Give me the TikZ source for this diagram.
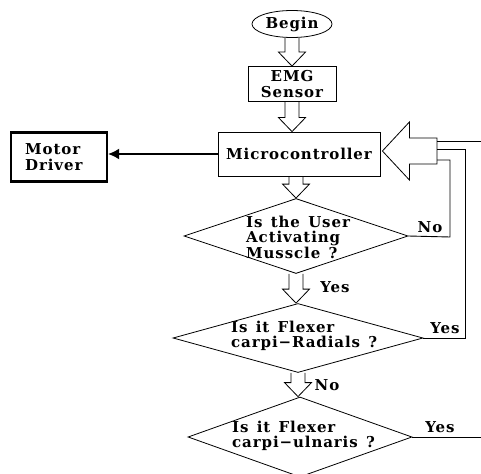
\documentclass[tikz,border=0pt]{standalone}
\usepackage{fontspec}
\setmainfont{DejaVu Serif}
\newfontfamily\diagfont{DejaVu Serif}[LetterSpace=6,WordSpace=1.35]
\usetikzlibrary{shapes.geometric,calc,arrows.meta}
\newcommand\myfont{\diagfont\fontsize{15}{15.5}\selectfont\bfseries}
\newcommand\harrow[2]{%
  \draw[hollow] let \p1=(#1), \p2=(#2) in
    (\x1-7pt,\y1) -- (\x1-7pt,\y2+14pt) -- (\x1-13.5pt,\y2+14pt) -- (\x1,\y2)
    -- (\x1+13.5pt,\y2+14pt) -- (\x1+7pt,\y2+14pt) -- (\x1+7pt,\y1);}
\tikzset{
  lbl/.style={font=\myfont, inner sep=0pt},
  hollow/.style={draw, line width=0.8pt, line join=miter},
  flow/.style={draw, line width=0.9pt},
  boxed/.style={draw, line width=0.8pt, inner sep=0pt},
}
\begin{document}
\begin{tikzpicture}[x=1pt,y=-1pt]
\path[use as bounding box] (0,0) rectangle (481,473);
\node[boxed, ellipse, minimum width=80, minimum height=27, lbl] (begin) at (292,24) {Begin};
\node[boxed, minimum width=88, minimum height=35, align=center, lbl] (emg) at (292,84) {EMG\\Sensor};
\node[boxed, minimum width=162, minimum height=44, lbl] (micro) at (299,154) {Microcontroller};
\node[boxed, line width=2.4pt, minimum width=96, minimum height=49] (motor) at (59,157) {};
\node[lbl, align=left, anchor=west] (motortext) at (25,157) {Motor\\Driver};
\node[boxed, diamond, minimum width=224, minimum height=75] (d1) at (296,236) {};
\node[boxed, diamond, minimum width=250, minimum height=69] (d2) at (298,338) {};
\node[boxed, diamond, minimum width=224, minimum height=80] (d3) at (300,437) {};
\node[lbl, align=left, anchor=west] (t1) at (246,237) {Is the User\\Activating\\Musscle ?};
\node[lbl, align=left, anchor=west] (t2) at (231,336) {Is it Flexer\\carpi−Radials ?};
\node[lbl, align=left, anchor=west] (t3) at (232,436) {Is it Flexer\\carpi−ulnaris ?};
\harrow{begin.south}{emg.north}
\harrow{emg.south}{micro.north}
\harrow{d1.north |- micro.south}{d1.north}
\harrow{d1.south}{d2.north}
\harrow{d2.south}{d3.north}
\coordinate (fb) at (437,151);
\draw[hollow] let \p1=(micro.east), \p2=(fb) in
  (\x1+2pt,\y2) -- (\x1+29pt,\y2+29pt) -- (\x1+29pt,\y2+13pt) -- (\x2,\y2+13pt)
  -- (\x2,\y2-13pt) -- (\x1+29pt,\y2-13pt) -- (\x1+29pt,\y2-29pt) -- cycle;
\coordinate (fbA) at (437,141);
\coordinate (fbB) at (437,149);
\coordinate (fbC) at (437,160);
\coordinate (edge1) at (481,141);
\coordinate (edge2) at (481,437);
\coordinate (c1) at (450,237);
\coordinate (c2) at (465,338);
\draw[flow] (fbA) -- (edge1);
\draw[flow] (fbB) -| (c2) -- (d2.east);
\draw[flow] (fbC) -| (c1) -- (d1.east);
\draw[flow] (d3.east) -- (edge2);
\draw[line width=1.3pt, -{Latex[length=11pt,width=11pt]}] (micro.west) -- (micro.west -| motor.east);
\node[lbl] (no1) at (430,227) {No};
\node[lbl] (yes1) at (335,287) {Yes};
\node[lbl] (yes2) at (445,328) {Yes};
\node[lbl] (no2) at (327,385) {No};
\node[lbl] (yes3) at (440,427) {Yes};
\end{tikzpicture}
\end{document}
